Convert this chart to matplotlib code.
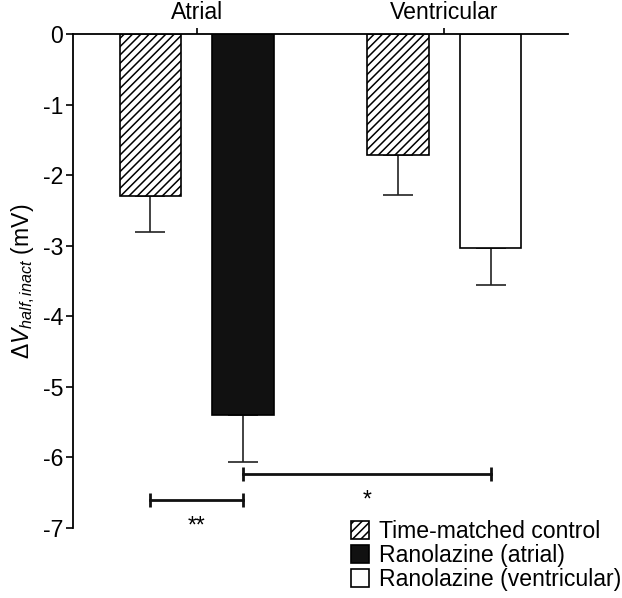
import numpy as np
import matplotlib
matplotlib.use('Agg')
import matplotlib.pyplot as plt
from matplotlib.patches import Patch

plt.rcParams['font.family'] = ['Liberation Sans', 'DejaVu Sans']
plt.rcParams['mathtext.fontset'] = 'custom'
plt.rcParams['mathtext.rm'] = 'Liberation Sans'
plt.rcParams['mathtext.it'] = 'Liberation Sans:italic'
plt.rcParams['axes.unicode_minus'] = False
plt.rcParams['hatch.linewidth'] = 1.1

# データ
groups = ['Atrial', 'Ventricular']
labels = ['Time-matched control', 'Ranolazine (atrial)', 'Ranolazine (ventricular)']
means = [-2.30, -5.40, -1.72, -3.03]
sems = [0.51, 0.66, 0.56, 0.53]
bar_group = [0, 0, 1, 1]
bar_kind = [0, 1, 0, 2]
sig_pairs = [(0, 1, -6.61, '**'), (1, 3, -6.24, '*')]

offset = 0.187
width = 0.25
faces = ['white', '#111111', 'white']
hatches = ['////', None, None]
fs = 16.6

fig = plt.figure(figsize=(6.22, 5.98), dpi=100)
ax = fig.add_axes([0.1174, 0.1171, 0.7958, 0.826])

xpos = [g + (-offset if k == 0 else offset) for g, k in zip(bar_group, bar_kind)]
for x, m, s, k in zip(xpos, means, sems, bar_kind):
    ax.bar(x, m, width=width, color=faces[k], edgecolor='black', linewidth=1.2,
           hatch=hatches[k], zorder=2)
    ax.errorbar(x, m, yerr=[[s], [0]], fmt='none', ecolor='#222222',
                elinewidth=1.2, capsize=11, capthick=1.2, zorder=1)

# 有意差の線
for i, j, y, txt in sig_pairs:
    ax.plot([xpos[i], xpos[j]], [y, y], color='#111111', lw=2.0,
            marker='|', markersize=10, markeredgewidth=2.0, clip_on=False)
    ax.text((xpos[i] + xpos[j]) / 2, y - 0.45, txt, ha='center',
            va='baseline', fontsize=fs)

ax.set_xlim(-0.5, 1.5)
ax.set_ylim(-7, 0)
ax.set_yticks(np.arange(-7, 1))
ax.set_yticklabels([str(v) for v in range(-7, 1)])
ax.set_xticks([0, 1])
ax.set_xticklabels(groups)
ax.xaxis.tick_top()
ax.tick_params(axis='x', length=4, width=1.2, pad=3, labelsize=fs)
ax.tick_params(axis='y', length=5, width=1.2, pad=2, labelsize=fs)
for side in ['bottom', 'right']:
    ax.spines[side].set_visible(False)
for side in ['top', 'left']:
    ax.spines[side].set_linewidth(1.3)
ax.set_ylabel(r'$\Delta V_{\mathit{half,inact}}$ (mV)', fontsize=fs, labelpad=4)

handles = [Patch(facecolor=faces[k], edgecolor='black', hatch=hatches[k], linewidth=1.2)
           for k in range(3)]
fig.legend(handles, labels, loc='upper left', bbox_to_anchor=(351 / 622, 1 - 520 / 598),
           frameon=False, fontsize=fs, handlelength=0.8, handleheight=0.8,
           handletextpad=0.4, labelspacing=0.05, borderpad=0, borderaxespad=0)

plt.savefig('out.png', dpi=100)
